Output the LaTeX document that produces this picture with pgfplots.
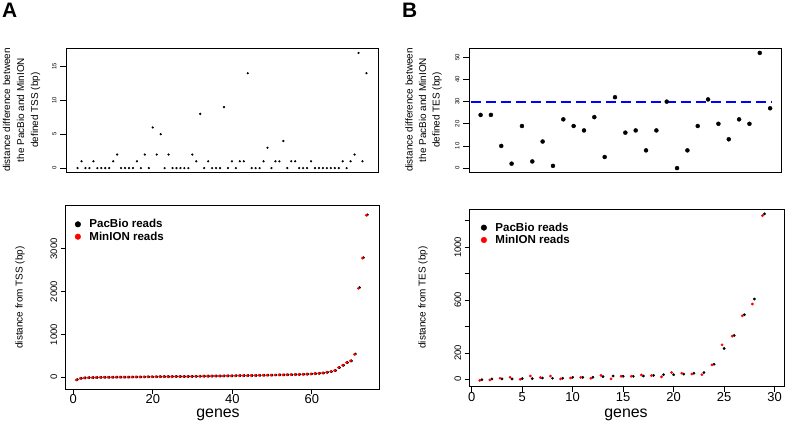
\documentclass[border=0pt]{standalone}
\usepackage{pgfplots}
\pgfplotsset{compat=1.18}
\usepackage{pgfplotstable}
\usepackage{fontspec}
\setmainfont{Liberation Sans}

\pgfplotstableread{
x y
1 0
2 1
3 0
4 0
5 1
6 0
7 0
8 0
9 0
10 1
11 2
12 0
13 0
14 0
15 0
16 1
17 0
18 2
19 0
20 6
21 2
22 5
23 0
24 2
25 0
26 0
27 0
28 0
29 0
30 2
31 1
32 8
33 0
34 1
35 0
36 0
37 0
38 9
39 0
40 1
41 0
42 1
43 1
44 14
45 0
46 0
47 0
48 1
49 3
50 0
51 1
52 1
53 4
54 0
55 1
56 1
57 0
58 0
59 0
60 1
61 0
62 0
63 0
64 0
65 0
66 0
67 0
68 1
69 0
70 1
71 2
72 17
73 1
74 14
}\tssdiff

\pgfplotstableread{
x y
1 24
2 24
3 10
4 2
5 19
6 3
7 12
8 1
9 22
10 19
11 17
12 23
13 5
14 32
15 16
16 17
17 8
18 17
19 30
20 0
21 8
22 19
23 31
24 20
25 13
26 22
27 20
28 52
29 27
}\tesdiff

\pgfplotstableread{
x pac min
1 -55 -62
2 -22 -26
3 -13 -15
4 -9 -10
5 -6 -6
6 -3 -4
7 -1 -2
8 0 0
9 1 1
10 2 2
11 3 3
12 4 4
13 5 5
14 6 6
15 7 7
16 8 8
17 9 9
18 10 10
19 11 11
20 12 12
21 13 13
22 14 14
23 15 15
24 16 16
25 17 17
26 18 18
27 19 19
28 20 20
29 21 21
30 22 22
31 24 24
32 25 25
33 26 26
34 28 28
35 29 29
36 30 30
37 31 31
38 33 33
39 34 34
40 35 35
41 37 37
42 38 38
43 40 40
44 41 41
45 43 43
46 44 44
47 46 46
48 48 48
49 50 50
50 52 52
51 54 54
52 56 56
53 58 58
54 60 60
55 62 62
56 65 65
57 68 68
58 71 71
59 74 74
60 78 78
61 85 85
62 94 94
63 101 101
64 117 117
65 133 133
66 160 160
67 226 226
68 281 281
69 344 344
70 383 383
71 545 538
72 2095 2080
73 2795 2785
74 3795 3785
}\tss

\pgfplotstableread{
x pac min
1 -3 -8
2 3 -5
3 3 8
4 3 15
5 5 0
6 5 25
7 10 13
8 8 25
9 8 3
10 15 10
11 15 15
12 15 8
13 20 30
14 25 3
15 23 23
16 23 23
17 25 33
18 30 28
19 35 18
20 35 51
21 40 46
22 46 40
23 51 35
24 114 109
25 233 261
26 332 327
27 489 481
28 608 570
29 1253 1240
}\tes

\pgfplotsset{
  rbase/.style={
    scale only axis,
    axis line style={line width=0.8bp},
    every tick/.style={line width=0.8bp, black},
    tick align=outside,
    tick pos=left,
    major tick length=5bp,
    scaled ticks=false,
    /pgf/number format/assume math mode=true,
    /pgf/number format/1000 sep={},
    yticklabel style={rotate=90, anchor=south},
    clip=false,
  },
  rlegend/.style={
    legend style={at={(axis description cs:0,1)}, anchor=north west, draw=none, fill=none,
      font=\bfseries\fontsize{11.6}{13}\selectfont, row sep=1.5bp, inner sep=0bp,
      nodes={inner sep=0.5bp}, xshift=#1, yshift=-13bp},
    legend cell align=left,
    legend image code/.code={\path[draw=none, fill=none] (0bp,-1bp) rectangle (17bp,1bp); \fill (6bp,0bp) circle (2.8bp);},
  },
}

\begin{document}
\begin{tikzpicture}
\path[use as bounding box] (0bp,0bp) rectangle (787bp,423bp);

% panel letters
\node[anchor=base west, inner sep=0pt, font=\bfseries\fontsize{21}{21}\selectfont] at (2bp,405bp) {A};
\node[anchor=base west, inner sep=0pt, font=\bfseries\fontsize{21}{21}\selectfont] at (402bp,405bp) {B};

% ---------- top left ----------
\begin{axis}[rbase,
  at={(66bp,250.3bp)}, anchor=south west,
  width=312bp, height=124.4bp,
  xmin=-1.92, xmax=76.92, ymin=-0.68, ymax=17.68,
  xtick=\empty, ytick={0,5,10,15},
  major tick length=6bp,
  yticklabel style={font=\fontsize{6}{7}\selectfont},
]
\addplot[only marks, mark=*, mark size=0.9bp, black] table[x=x, y=y] {\tssdiff};
\end{axis}
\node[rotate=90, align=center, font=\fontsize{10}{14}\selectfont] at (21.5bp,313bp) {distance difference between\\the PacBio and MinION\\defined TSS (bp)};

% ---------- top right ----------
\begin{axis}[rbase,
  at={(469bp,250.3bp)}, anchor=south west,
  width=312.7bp, height=124.4bp,
  xmin=-0.12, xmax=30.12, ymin=-2.08, ymax=54.08,
  xtick=\empty, ytick={0,10,20,30,40,50},
  major tick length=6bp,
  yticklabel style={font=\fontsize{6}{7}\selectfont},
]
\addplot[blue, line width=2bp, dash pattern=on 10bp off 5bp] coordinates {(0.05,30) (29.1,30)};
\addplot[only marks, mark=*, mark size=2bp, black] table[x=x, y=y] {\tesdiff};
\end{axis}
\node[rotate=90, align=center, font=\fontsize{10}{13.5}\selectfont] at (423.5bp,313bp) {distance difference between\\the PacBio and MinION\\defined TES (bp)};

% ---------- bottom left ----------
\begin{axis}[rbase,
  at={(65.7bp,34bp)}, anchor=south west,
  width=313.3bp, height=183.3bp,
  xmin=-1.92, xmax=76.92, ymin=-273, ymax=4009,
  xtick={0,20,40,60}, ytick={0,1000,2000,3000},
  xticklabel style={font=\fontsize{13}{14}\selectfont, inner sep=0.5bp},
  yticklabel style={font=\fontsize{9.5}{10}\selectfont},
  rlegend=6bp,
]
\addplot[only marks, mark=*, mark size=1.2bp, black, forget plot] table[x=x, y=pac] {\tss};
\addplot[only marks, mark=*, mark size=1.2bp, red, forget plot] table[x expr={\thisrow{x}-0.25}, y=min] {\tss};
\addlegendimage{black, fill=black}
\addlegendentry{PacBio reads}
\addlegendimage{red, fill=red}
\addlegendentry{MinION reads}
\end{axis}
\node[rotate=90, font=\fontsize{10}{12}\selectfont] at (20bp,125.5bp) {distance from TSS (bp)};
\node[anchor=base, inner sep=0bp, font=\fontsize{16}{18}\selectfont] at (218bp,5.8bp) {genes};

% ---------- bottom right ----------
\begin{axis}[rbase,
  at={(469.7bp,36.3bp)}, anchor=south west,
  width=315bp, height=177.7bp,
  xmin=-0.2, xmax=31.0, ymin=-56, ymax=1290,
  xtick={0,5,10,15,20,25,30},
  ytick={0,200,400,600,800,1000,1200},
  yticklabels={0,200,,600,,1000,},
  xticklabel style={font=\fontsize{13}{14}\selectfont, inner sep=0.5bp},
  yticklabel style={font=\fontsize{9.5}{10}\selectfont},
  rlegend=8bp,
]
\addplot[only marks, mark=*, mark size=1.2bp, black, forget plot] table[x=x, y=pac] {\tes};
\addplot[only marks, mark=*, mark size=1.2bp, red, forget plot] table[x expr={\thisrow{x}-0.2}, y=min] {\tes};
\addlegendimage{black, fill=black}
\addlegendentry{PacBio reads}
\addlegendimage{red, fill=red}
\addlegendentry{MinION reads}
\end{axis}
\node[rotate=90, font=\fontsize{10}{12}\selectfont] at (423bp,125.5bp) {distance from TES (bp)};
\node[anchor=base, inner sep=0bp, font=\fontsize{16}{18}\selectfont] at (626bp,5.8bp) {genes};

\end{tikzpicture}
\end{document}
